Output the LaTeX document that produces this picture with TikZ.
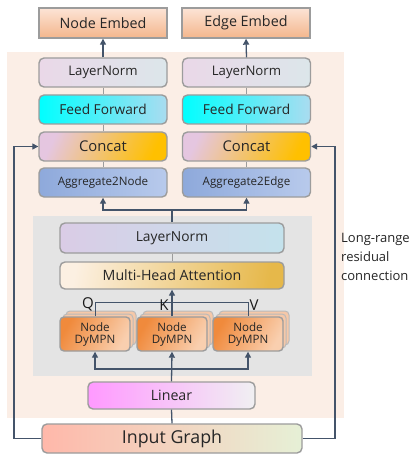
\documentclass[tikz,border=0pt]{standalone}
\usepackage{fontspec}
\setmainfont{Open Sans}
\usetikzlibrary{arrows.meta}
\definecolor{arr}{HTML}{44546A}
\definecolor{bord}{HTML}{9C9C9C}
\definecolor{peach}{HTML}{FBEEE6}
\definecolor{panel}{HTML}{E4E4E4}
\tikzset{
  box/.style={draw=bord, line width=1.4pt, rounded corners=5pt, inner sep=0pt, text=black!85},
  emb/.style={draw=bord, line width=1.4pt, inner sep=0pt, minimum width=128pt, minimum height=30pt,
    top color={rgb,255:red,252;green,228;blue,214}, bottom color={rgb,255:red,244;green,182;blue,140}, font=\fontsize{14.3}{16}\selectfont, text=black!85},
  colbox/.style={box, minimum width=128pt, minimum height=29pt},
  lnbox/.style={left color={rgb,255:red,234;green,216;blue,232}, right color={rgb,255:red,220;green,230;blue,234}, font=\fontsize{13.2}{15}\selectfont},
  ffbox/.style={left color={rgb,255:red,0;green,255;blue,255}, right color={rgb,255:red,170;green,220;blue,240}, font=\fontsize{13.7}{15}\selectfont},
  ccbox/.style={left color={rgb,255:red,229;green,198;blue,224}, middle color={rgb,255:red,236;green,188;blue,196}, right color={rgb,255:red,255;green,192;blue,0}, shading angle=65, font=\fontsize{14.8}{16}\selectfont},
  agbox/.style={left color={rgb,255:red,142;green,169;blue,219}, right color={rgb,255:red,184;green,202;blue,236}, font=\fontsize{11.6}{13}\selectfont},
  dybox/.style={box, rounded corners=4pt, minimum width=70pt, minimum height=34pt, align=center,
    left color={rgb,255:red,240;green,138;blue,60}, right color={rgb,255:red,249;green,207;blue,175}, shading angle=60, font=\fontsize{11.6}{13}\selectfont},
  dyback/.style={draw=bord!70, line width=1pt, rounded corners=4pt, fill={rgb,255:red,246;green,200;blue,168}},
  darr/.style={draw=arr, line width=1.3pt, -{Triangle[width=6pt,length=6pt]}},
  dline/.style={draw=arr, line width=1.3pt},
  gline/.style={draw=bord, line width=1pt},
  qkv/.style={font=\fontsize{15}{16}\selectfont, text=black!90, inner sep=0pt}
}
\begin{document}
\begin{tikzpicture}[x=1pt,y=-1pt]
\useasboundingbox (0,0) rectangle (411,454);
\fill[white] (0,0) rectangle (411,454);
% backgrounds
\fill[peach] (7,52) rectangle (344,418);
\fill[panel] (33,216) rectangle (312,376);
% embeds
\node[emb] (nemb) at (103,23) {Node Embed};
\node[emb] (eemb) at (246,23) {Edge Embed};
% left column
\node[colbox, lnbox] (ln1) at (103,72.5) {LayerNorm};
\node[colbox, ffbox] (ff1) at (103,109.5) {Feed Forward};
\node[colbox, ccbox] (cc1) at (103,146.5) {Concat};
\node[colbox, agbox] (ag1) at (103,182.5) {Aggregate2Node};
% right column
\node[colbox, lnbox] (ln2) at (246.5,72.5) {LayerNorm};
\node[colbox, ffbox] (ff2) at (246.5,109.5) {Feed Forward};
\node[colbox, ccbox] (cc2) at (246.5,146.5) {Concat};
\node[colbox, agbox] (ag2) at (246.5,182.5) {Aggregate2Edge};
% attention block
\node[box, minimum width=224pt, minimum height=30pt, left color={rgb,255:red,218;green,204;blue,230}, right color={rgb,255:red,196;green,226;blue,236}, font=\fontsize{13.8}{15}\selectfont] (lnm) at (172,238) {LayerNorm};
\node[box, minimum width=224pt, minimum height=27pt, left color={rgb,255:red,252;green,240;blue,226}, middle color={rgb,255:red,245;green,224;blue,180}, right color={rgb,255:red,230;green,184;blue,74}, shading angle=80, font=\fontsize{14.2}{15}\selectfont] (mha) at (172,275.5) {Multi-Head Attention};
% DyMPN stacks
\foreach \cx in {95,172,248}{
  \draw[dyback] (\cx-35+6,334-17-6) rectangle (\cx+35+6,334+17-6);
  \draw[dyback] (\cx-35+3,334-17-3) rectangle (\cx+35+3,334+17-3);
}
\node[dybox] (dy1) at (95,334) {Node\\[-1pt]DyMPN};
\node[dybox] (dy2) at (172,334) {Node\\[-1pt]DyMPN};
\node[dybox] (dy3) at (248,334) {Node\\[-1pt]DyMPN};
\node[box, minimum width=167pt, minimum height=27pt, left color={rgb,255:red,255;green,153;blue,255}, right color={rgb,255:red,240;green,240;blue,242}, font=\fontsize{14.2}{15}\selectfont] (lin) at (171.5,395.5) {Linear};
\node[box, minimum width=260pt, minimum height=29pt, left color={rgb,255:red,255;green,184;blue,170}, right color={rgb,255:red,230;green,240;blue,214}, font=\fontsize{17.8}{19}\selectfont] (ig) at (172,438.5) {Input Graph};
% coordinates
\coordinate (splitT) at (172,210);
\coordinate (qv) at (95,302);
\coordinate (vv) at (248,302);
\coordinate (splitB) at (172,369);
\coordinate (rl) at (14,438.5);
\coordinate (rr) at (335,438.5);
% top connectors
\draw[darr] (ln1.north) -- (nemb.south);
\draw[darr] (ln2.north) -- (eemb.south);
\draw[gline] (ln1) -- (ff1);
\draw[gline] (ff1) -- (cc1);
\draw[gline] (cc1) -- (ag1);
\draw[gline] (ln2) -- (ff2);
\draw[gline] (ff2) -- (cc2);
\draw[gline] (cc2) -- (ag2);
\draw[dline] (lnm.north) -- (splitT);
\draw[darr] (splitT) -| (ag1.south);
\draw[darr] (splitT) -| (ag2.south);
\draw[gline] (lnm) -- (mha);
% QKV
\draw[dline, line width=1pt] (dy1.north) -- (qv) -- (vv) -- (dy3.north);
\draw[darr] (dy2.north) -- (mha.south);
\node[qkv] (q) at (88,304) {Q};
\node[qkv] (k) at (164,305) {K};
\node[qkv] (v) at (254,305) {V};
% bottom
\draw[darr] (lin.north) -- (dy2.south);
\draw[darr] (splitB) -| (dy1.south);
\draw[darr] (splitB) -| (dy3.south);
\draw[dline] (lin.south) -- (ig.north);
% residuals
\draw[darr] (ig.west) -- (rl) |- (cc1.west);
\draw[darr] (ig.east) -- (rr) |- (cc2.east);
\node[anchor=west, align=left, inner sep=0pt, font=\fontsize{13}{19}\selectfont, text=black!85] (lbl) at (341,257) {Long-range\\residual\\connection};
\end{tikzpicture}
\end{document}
